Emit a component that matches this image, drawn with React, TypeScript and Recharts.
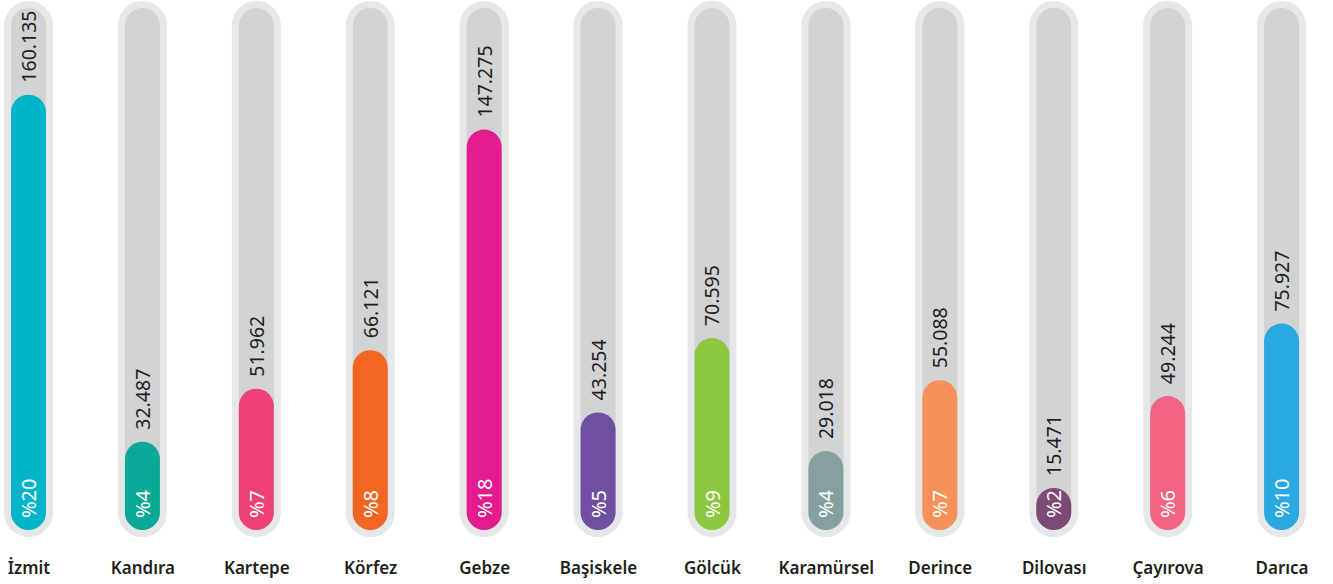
import { BarChart, Bar, XAxis, YAxis, LabelList } from 'recharts';

const districts = ['İzmit', 'Kandıra', 'Kartepe', 'Körfez', 'Gebze', 'Başiskele', 'Gölcük', 'Karamürsel', 'Derince', 'Dilovası', 'Çayırova', 'Darıca'];
const population = [160135, 32487, 51962, 66121, 147275, 43254, 70595, 29018, 55088, 15471, 49244, 75927];
const shares = [20, 4, 7, 8, 18, 5, 9, 4, 7, 2, 6, 10];
const colors = ['#00b5c8', '#0aa896', '#ee4175', '#f26522', '#e31b8e', '#6f4fa0', '#8dc63f', '#86a0a0', '#f7915a', '#7d4a76', '#f26482', '#29a9e0'];

const data = districts.map((name, i) => ({
  name,
  value: population[i],
  share: shares[i],
  color: colors[i],
}));

const FONT = '"Noto Sans", "Open Sans", sans-serif';

const fmt = (v: number) => String(v).replace(/\B(?=(\d{3})+(?!\d))/g, '.');

const Track = (props: any) => {
  const { x, y, width, height } = props;
  return (
    <g>
      <rect x={x - 7} y={y - 7} width={width + 14} height={height + 14} rx={(width + 14) / 2} fill="#e6e7e8" />
      <rect x={x} y={y} width={width} height={height} rx={width / 2} fill="#d1d3d4" />
    </g>
  );
};

const Pill = (props: any) => {
  const { x, y, width, height, payload } = props;
  return <rect x={x} y={y} width={width} height={height} rx={width / 2} fill={payload.color} />;
};

const ValueLabel = (props: any) => {
  const { x, y, width, value } = props;
  const cx = x + width / 2;
  const ty = y - 12;
  return (
    <text
      x={cx}
      y={ty}
      transform={`rotate(-90, ${cx}, ${ty})`}
      textAnchor="start"
      dominantBaseline="central"
      fill="#231f20"
      fontSize={19.5}
      fontFamily={FONT}
    >
      {fmt(value)}
    </text>
  );
};

const ShareLabel = (props: any) => {
  const { x, y, width, height, value } = props;
  const cx = x + width / 2;
  const ty = y + height - 12;
  return (
    <text
      x={cx}
      y={ty}
      transform={`rotate(-90, ${cx}, ${ty})`}
      textAnchor="start"
      dominantBaseline="central"
      fill="#ffffff"
      fontSize={20}
      fontFamily={FONT}
    >
      {'%' + value}
    </text>
  );
};

const DistrictTick = (props: any) => {
  const { x, y, payload } = props;
  return (
    <text x={x} y={y + 42} textAnchor="middle" fill="#231f20" fontSize={17} fontWeight={600} fontFamily={FONT}>
      {payload.value}
    </text>
  );
};

export default function App() {
  return (
    <div style={{ position: 'absolute', left: 0, top: 0, width: 1333, height: 584, overflow: 'hidden', background: '#fff' }}>
      <div style={{ marginLeft: -28.5 }}>
        <BarChart width={1367} height={584} data={data} margin={{ top: 8, right: 0, left: 0, bottom: 0 }}>
          <XAxis
            dataKey="name"
            axisLine={false}
            tickLine={false}
            tickSize={0}
            height={54}
            interval={0}
            tick={<DistrictTick />}
          />
          <YAxis hide domain={[0, 192000]} />
          <Bar
            dataKey="value"
            barSize={35}
            isAnimationActive={false}
            background={<Track />}
            shape={<Pill />}
          >
            <LabelList dataKey="value" content={<ValueLabel />} />
            <LabelList dataKey="share" content={<ShareLabel />} />
          </Bar>
        </BarChart>
      </div>
    </div>
  );
}
